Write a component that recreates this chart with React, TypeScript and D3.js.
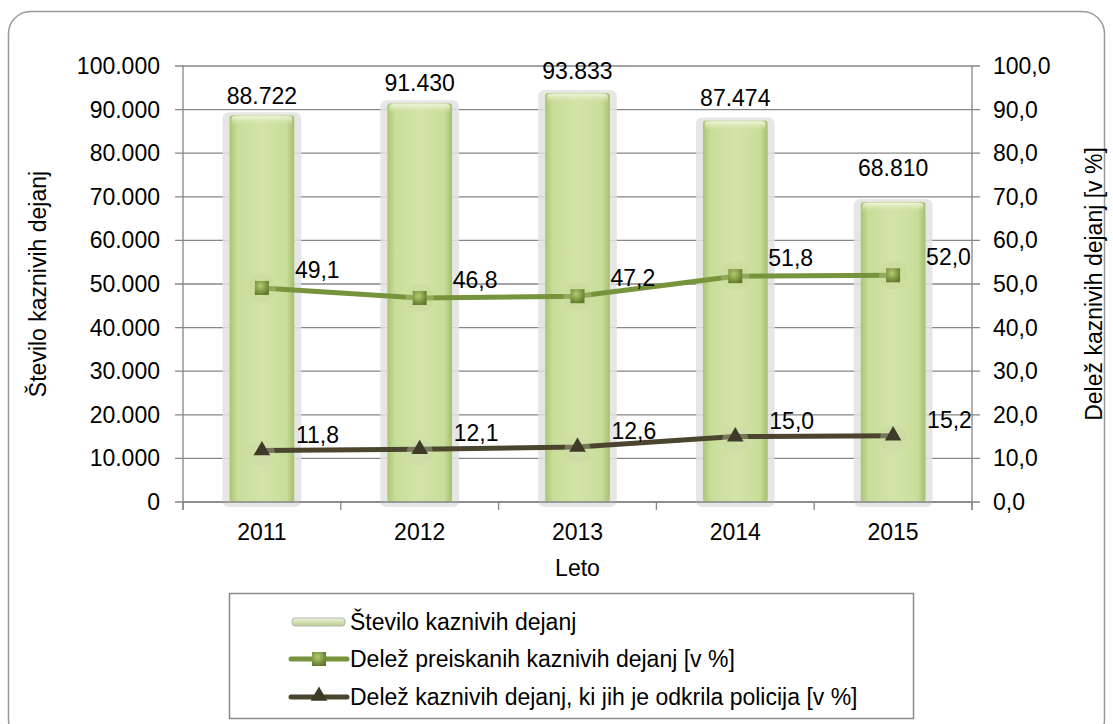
import React from 'react';
import * as d3 from 'd3';

// data
const years = ['2011', '2012', '2013', '2014', '2015'];
const crimes = [88722, 91430, 93833, 87474, 68810];
const investigatedShare = [49.1, 46.8, 47.2, 51.8, 52.0];
const policeShare = [11.8, 12.1, 12.6, 15.0, 15.2];
const leftTicks = [0, 10000, 20000, 30000, 40000, 50000, 60000, 70000, 80000, 90000, 100000];
const rightTicks = [0, 10, 20, 30, 40, 50, 60, 70, 80, 90, 100];

const legendLabels = [
  'Število kaznivih dejanj',
  'Delež preiskanih kaznivih dejanj [v %]',
  'Delež kaznivih dejanj, ki jih je odkrila policija [v %]',
];

const W = 1113;
const H = 724;
const FONT = '"Liberation Sans", Arial, sans-serif';
const FS = 23;
const GREEN = '#77933C';
const DARK = '#4B4530';
const GRID = '#868686';

const loc = d3.formatLocale({ decimal: ',', thousands: '.', grouping: [3], currency: ['', ' €'] });
const fmtInt = loc.format(',.0f');
const fmtPct = loc.format('.1f');

const plot = { left: 183, right: 972, top: 66, bottom: 502 };

// label lift above bars (2015 label sits higher in the original)
const barLabelLift = [19, 20, 22, 23, 34];

const App = () => {
  const x = d3.scaleBand<string>().domain(years).range([plot.left, plot.right]).padding(0);
  const yL = d3.scaleLinear().domain([0, 100000]).range([plot.bottom, plot.top]);
  const yR = d3.scaleLinear().domain([0, 100]).range([plot.bottom, plot.top]);
  const bw = x.bandwidth() * 0.41;
  const cx = (y: string) => (x(y) as number) + x.bandwidth() / 2;

  const line = d3.line<number>()
    .x((_, i) => cx(years[i]))
    .y(d => yR(d));

  const bounds = [...years.map(y => x(y) as number), plot.right];
  const tri = d3.symbol(d3.symbolTriangle, 120)() as string;

  const legX = 229, legY = 593, legW = 684, legH = 125;
  const rows = [622, 659, 697];

  return (
    <div style={{ position: 'fixed', left: 0, top: 0 }}>
      <svg width={W} height={H} fontFamily={FONT} style={{ display: 'block', background: '#fff' }}>
        <defs>
          <linearGradient id="barG" x1="0" x2="1" y1="0" y2="0">
            <stop offset="0" stopColor="#A9C574" />
            <stop offset="0.12" stopColor="#C8DD9A" />
            <stop offset="0.5" stopColor="#D2E4A8" />
            <stop offset="0.88" stopColor="#C8DD9A" />
            <stop offset="1" stopColor="#A3BF6C" />
          </linearGradient>
          <linearGradient id="bevel" x1="0" x2="0" y1="0" y2="1">
            <stop offset="0" stopColor="#EEF5DC" />
            <stop offset="1" stopColor="#D2E4A8" stopOpacity="0" />
          </linearGradient>
          <radialGradient id="sqG" cx="0.4" cy="0.35" r="0.7">
            <stop offset="0" stopColor="#B3CC70" />
            <stop offset="1" stopColor="#5C7828" />
          </radialGradient>
          <linearGradient id="legBar" x1="0" x2="0" y1="0" y2="1">
            <stop offset="0" stopColor="#EEF4DC" />
            <stop offset="1" stopColor="#B9CF8C" />
          </linearGradient>
        </defs>

        {/* outer frame */}
        <rect x={8.5} y={11.5} width={1096} height={730} rx={22} fill="none" stroke="#9A9A9A" strokeWidth={1.5} />

        {/* gridlines */}
        {leftTicks.map(t => (
          <line key={t} x1={plot.left - 8} x2={plot.right + 8} y1={yL(t)} y2={yL(t)} stroke={GRID} strokeWidth={1.3} />
        ))}

        {/* bars */}
        {crimes.map((v, i) => {
          const bx = cx(years[i]) - bw / 2;
          const by = yL(v);
          return (
            <g key={i}>
              <rect x={bx - 7} y={by - 3} width={bw + 14} height={plot.bottom - by + 8} rx={6} fill="#E2E2E2" opacity={0.85} />
              <rect x={bx} y={by} width={bw} height={plot.bottom - by} rx={3} fill="url(#barG)" />
              <rect x={bx + 2} y={by + 1} width={bw - 4} height={9} rx={3} fill="url(#bevel)" />
              <text x={cx(years[i])} y={by - barLabelLift[i]} textAnchor="middle" fontSize={FS} fill="#000" dy="0.35em">
                {fmtInt(v)}
              </text>
            </g>
          );
        })}

        {/* axes */}
        <line x1={plot.left} x2={plot.left} y1={plot.top} y2={plot.bottom + 8} stroke={GRID} strokeWidth={1.3} />
        <line x1={plot.right} x2={plot.right} y1={plot.top} y2={plot.bottom + 8} stroke={GRID} strokeWidth={1.3} />
        <line x1={plot.left} x2={plot.right} y1={plot.bottom} y2={plot.bottom} stroke={GRID} strokeWidth={1.3} />
        {bounds.map((b, i) => (
          <line key={i} x1={b} x2={b} y1={plot.bottom} y2={plot.bottom + 8} stroke={GRID} strokeWidth={1.3} />
        ))}

        {leftTicks.map(t => (
          <text key={t} x={160} y={yL(t)} dy="0.35em" textAnchor="end" fontSize={FS} fill="#000">
            {t === 0 ? '0' : fmtInt(t)}
          </text>
        ))}
        {rightTicks.map(t => (
          <text key={t} x={993} y={yR(t)} dy="0.35em" textAnchor="start" fontSize={FS} fill="#000">
            {fmtPct(t)}
          </text>
        ))}
        {years.map(y => (
          <text key={y} x={cx(y)} y={532} dy="0.35em" textAnchor="middle" fontSize={FS} fill="#000">{y}</text>
        ))}
        <text x={(plot.left + plot.right) / 2} y={568} dy="0.35em" textAnchor="middle" fontSize={FS} fill="#000">Leto</text>
        <text transform={`translate(38,${(plot.top + plot.bottom) / 2}) rotate(-90)`} dy="0.35em" textAnchor="middle" fontSize={FS} fill="#000">
          Število kaznivih dejanj
        </text>
        <text transform={`translate(1094,${(plot.top + plot.bottom) / 2}) rotate(-90)`} dy="0.35em" textAnchor="middle" fontSize={FS} fill="#000">
          Delež kaznivih dejanj [v %]
        </text>

        {/* lines */}
        <path d={line(investigatedShare) as string} fill="none" stroke={GREEN} strokeWidth={5} />
        <path d={line(policeShare) as string} fill="none" stroke={DARK} strokeWidth={5} />

        {investigatedShare.map((v, i) => (
          <g key={i} transform={`translate(${cx(years[i])},${yR(v)})`}>
            <circle r={14} fill="#C5D596" opacity={0.35} />
            <rect x={-7} y={-7} width={14} height={14} fill="url(#sqG)" />
            <text x={33} y={-18} dy="0.35em" fontSize={FS} fill="#000">{fmtPct(v)}</text>
          </g>
        ))}
        {policeShare.map((v, i) => (
          <g key={i} transform={`translate(${cx(years[i])},${yR(v)})`}>
            <circle r={13} cy={3} fill="#C9D5A8" opacity={0.35} />
            <path d={tri} fill="#3F3A28" />
            <text x={34} y={-16} dy="0.35em" fontSize={FS} fill="#000">{fmtPct(v)}</text>
          </g>
        ))}

        {/* legend */}
        <rect x={legX + 0.5} y={legY + 0.5} width={legW} height={legH} fill="#fff" stroke="#8C8C8C" strokeWidth={1.5} />
        <rect x={292} y={rows[0] - 4} width={53} height={8} rx={3} fill="url(#legBar)" stroke="#B5B5B5" strokeWidth={1} />
        <line x1={291} x2={347} y1={rows[1]} y2={rows[1]} stroke={GREEN} strokeWidth={5} strokeLinecap="round" />
        <rect x={312} y={rows[1] - 7} width={14} height={14} fill="url(#sqG)" />
        <line x1={291} x2={347} y1={rows[2]} y2={rows[2]} stroke={DARK} strokeWidth={5} strokeLinecap="round" />
        <path d={tri} transform={`translate(319,${rows[2] - 1})`} fill="#3F3A28" />
        {legendLabels.map((l, i) => (
          <text key={i} x={350} y={rows[i]} dy="0.35em" fontSize={FS} fill="#000">{l}</text>
        ))}
      </svg>
    </div>
  );
};

export default App;
